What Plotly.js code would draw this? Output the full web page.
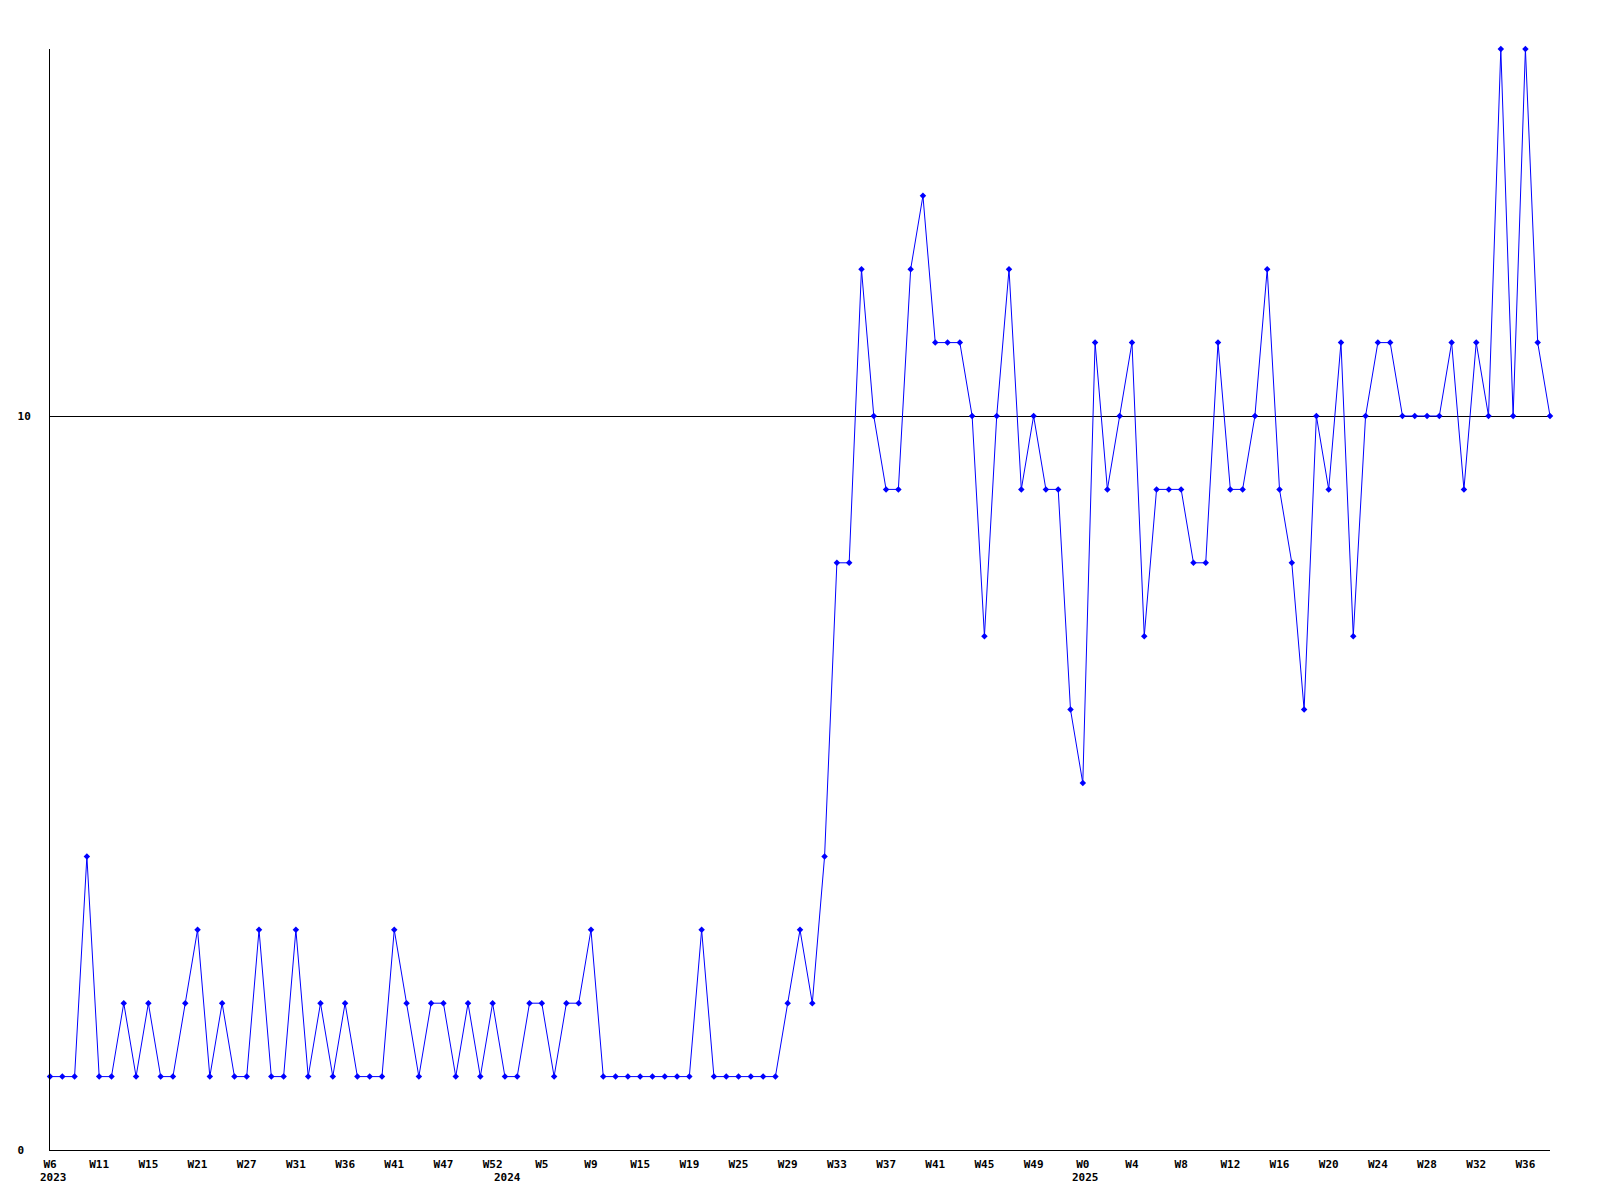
<!DOCTYPE html>
<html>
<head>
<meta charset="utf-8">
<script src="https://cdn.plot.ly/plotly-3.0.1.min.js"></script>
<style>html,body{margin:0;padding:0;background:#fff;}#chart{width:1600px;height:1200px;}</style>
</head>
<body>
<div id="chart"></div>
<script>
// Weekly values, W6 2023 .. W38 2025 (one point per week sample)
var values = [
  1, 1, 1, 4, 1, 1, 2, 1, 2, 1,
  1, 2, 3, 1, 2, 1, 1, 3, 1, 1,
  3, 1, 2, 1, 2, 1, 1, 1, 3, 2,
  1, 2, 2, 1, 2, 1, 2, 1, 1, 2,
  2, 1, 2, 2, 3, 1, 1, 1, 1, 1,
  1, 1, 1, 3, 1, 1, 1, 1, 1, 1,
  2, 3, 2, 4, 8, 8, 12, 10, 9, 9,
  12, 13, 11, 11, 11, 10, 7, 10, 12, 9,
  10, 9, 9, 6, 5, 11, 9, 10, 11, 7,
  9, 9, 9, 8, 8, 11, 9, 9, 10, 12,
  9, 8, 6, 10, 9, 11, 7, 10, 11, 11,
  10, 10, 10, 10, 11, 9, 11, 10, 15, 10,
  15, 11, 10
];
// Tick labels, one every 4th point
var tickLabels = ["W6","W11","W15","W21","W27","W31","W36","W41","W47","W52",
  "W5","W9","W15","W19","W25","W29","W33","W37","W41","W45",
  "W49","W0","W4","W8","W12","W16","W20","W24","W28","W32","W36"];
var yearLabels = ["2023","2024","2025"];
var yearPos = [0.28, 37.2, 84.25];
var yTickVals = [0, 10];
var yTickText = ["0\u00a0", "10"];

var xs = values.map(function(_, i){ return i; });
var tickVals = tickLabels.map(function(_, i){ return i * 4; });

var font = {family: "DejaVu Sans Mono, Liberation Mono, monospace", size: 11, color: "#000"};
var boldFont = Object.assign({}, font, {weight: "bold"});

var trace = {
  x: xs, y: values, type: "scatter", mode: "lines+markers",
  line: {color: "#0000ff", width: 1},
  marker: {symbol: "diamond", size: 5, color: "#0000ff"},
  cliponaxis: false,
  hoverinfo: "x+y"
};

var annotations = yearLabels.map(function(t, i){
  return {x: yearPos[i], y: 0, xref: "x", yref: "paper", text: t, showarrow: false,
    xanchor: "center", yanchor: "middle", yshift: -27, font: boldFont};
});

var layout = {
  width: 1600, height: 1200,
  margin: {l: 50, r: 50, t: 49, b: 50, pad: 0},
  paper_bgcolor: "#fff", plot_bgcolor: "#fff",
  showlegend: false,
  font: boldFont,
  xaxis: {
    range: [0, 122], tickvals: tickVals, ticktext: tickLabels,
    showline: true, linecolor: "#000", linewidth: 1,
    showgrid: false, zeroline: false, ticks: "",
    tickfont: boldFont, ticklabelstandoff: 4, tickangle: 0
  },
  yaxis: {
    range: [0, 15], tickvals: yTickVals, ticktext: yTickText,
    showline: true, linecolor: "#000", linewidth: 1,
    showgrid: true, gridcolor: "#000", gridwidth: 1,
    zeroline: false, ticks: "", tickfont: boldFont, ticklabelstandoff: 16
  },
  annotations: annotations
};

Plotly.newPlot("chart", [trace], layout, {displayModeBar: false, staticPlot: true});
</script>
</body>
</html>
